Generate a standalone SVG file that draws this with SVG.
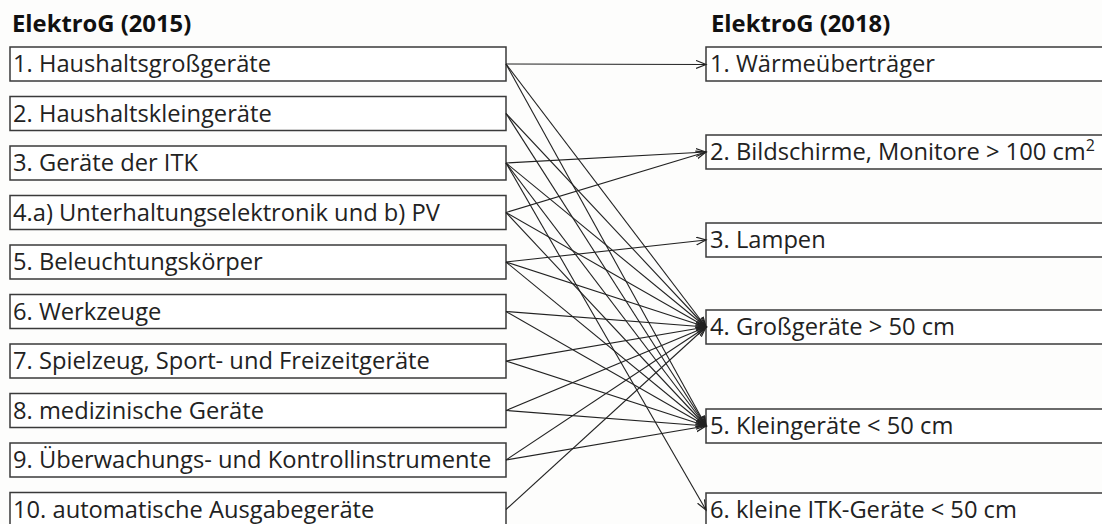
<svg xmlns="http://www.w3.org/2000/svg" width="1102" height="524" viewBox="0 0 1102 524">
<defs>
<marker id="arr" markerUnits="userSpaceOnUse" markerWidth="12" markerHeight="10" refX="10" refY="4.5" orient="auto" viewBox="0 0 12 10">
<path d="M0,0.5 L10,4.5 L0,8.5" fill="none" stroke="#222" stroke-width="1.2"/>
</marker>
<style>
.box{fill:#fff;stroke:#3a3a3a;stroke-width:1.5}
.lbl{font-family:"Open Sans","Liberation Sans",sans-serif;font-size:23.7px;fill:#222}
.hdr{font-family:"Open Sans","Liberation Sans",sans-serif;font-size:23.8px;font-weight:bold;fill:#111}
.c{stroke:#222;stroke-width:1.1;fill:none;marker-end:url(#arr)}
</style>
</defs>
<rect width="1102" height="524" fill="#fdfdfc"/>
<g id="headers">
<text class="hdr" x="12" y="32">ElektroG (2015)</text>
<text class="hdr" x="711" y="32">ElektroG (2018)</text>
</g>
<g id="left-1"><rect class="box" x="10" y="47" width="496" height="34"/><text class="lbl" x="13" y="72">1. Haushaltsgroßgeräte</text></g>
<g id="left-2"><rect class="box" x="10" y="96.5" width="496" height="34"/><text class="lbl" x="13" y="121.5">2. Haushaltskleingeräte</text></g>
<g id="left-3"><rect class="box" x="10" y="146" width="496" height="34"/><text class="lbl" x="13" y="171">3. Geräte der ITK</text></g>
<g id="left-4"><rect class="box" x="10" y="195.5" width="496" height="34"/><text class="lbl" x="13" y="220.5">4.a) Unterhaltungselektronik und b) PV</text></g>
<g id="left-5"><rect class="box" x="10" y="245" width="496" height="34"/><text class="lbl" x="13" y="270">5. Beleuchtungskörper</text></g>
<g id="left-6"><rect class="box" x="10" y="294.5" width="496" height="34"/><text class="lbl" x="13" y="319.5">6. Werkzeuge</text></g>
<g id="left-7"><rect class="box" x="10" y="344" width="496" height="34"/><text class="lbl" x="13" y="369">7. Spielzeug, Sport- und Freizeitgeräte</text></g>
<g id="left-8"><rect class="box" x="10" y="393.5" width="496" height="34"/><text class="lbl" x="13" y="418.5">8. medizinische Geräte</text></g>
<g id="left-9"><rect class="box" x="10" y="443" width="496" height="34"/><text class="lbl" x="13" y="468">9. Überwachungs- und Kontrollinstrumente</text></g>
<g id="left-10"><rect class="box" x="10" y="492.5" width="496" height="34"/><text class="lbl" x="13" y="517.5">10. automatische Ausgabegeräte</text></g>
<g id="right-1"><rect class="box" x="706" y="47" width="410" height="34"/><text class="lbl" x="710" y="72">1. Wärmeüberträger</text></g>
<g id="right-2"><rect class="box" x="706" y="135" width="410" height="34"/><text class="lbl" x="710" y="160">2. Bildschirme, Monitore &gt; 100 cm<tspan font-size="16" dy="-9">2</tspan></text></g>
<g id="right-3"><rect class="box" x="706" y="223" width="410" height="34"/><text class="lbl" x="710" y="248">3. Lampen</text></g>
<g id="right-4"><rect class="box" x="706" y="310" width="410" height="34"/><text class="lbl" x="710" y="335">4. Großgeräte &gt; 50 cm</text></g>
<g id="right-5"><rect class="box" x="706" y="409" width="410" height="34"/><text class="lbl" x="710" y="434">5. Kleingeräte &lt; 50 cm</text></g>
<g id="right-6"><rect class="box" x="706" y="493" width="410" height="34"/><text class="lbl" x="710" y="518">6. kleine ITK-Geräte &lt; 50 cm</text></g>
<g id="connectors">
<line class="c" x1="506" y1="64" x2="706" y2="64.5"/>
<line class="c" x1="506" y1="64" x2="706" y2="327"/>
<line class="c" x1="506" y1="64" x2="706" y2="426"/>
<line class="c" x1="506" y1="113.5" x2="706" y2="327"/>
<line class="c" x1="506" y1="113.5" x2="706" y2="426"/>
<line class="c" x1="506" y1="163" x2="706" y2="152"/>
<line class="c" x1="506" y1="163" x2="706" y2="327"/>
<line class="c" x1="506" y1="163" x2="706" y2="426"/>
<line class="c" x1="506" y1="163" x2="706" y2="510"/>
<line class="c" x1="506" y1="212.5" x2="706" y2="152"/>
<line class="c" x1="506" y1="212.5" x2="706" y2="327"/>
<line class="c" x1="506" y1="212.5" x2="706" y2="426"/>
<line class="c" x1="506" y1="262" x2="706" y2="240"/>
<line class="c" x1="506" y1="262" x2="706" y2="327"/>
<line class="c" x1="506" y1="262" x2="706" y2="426"/>
<line class="c" x1="506" y1="311.5" x2="706" y2="327"/>
<line class="c" x1="506" y1="311.5" x2="706" y2="426"/>
<line class="c" x1="506" y1="361" x2="706" y2="327"/>
<line class="c" x1="506" y1="361" x2="706" y2="426"/>
<line class="c" x1="506" y1="410.5" x2="706" y2="327"/>
<line class="c" x1="506" y1="410.5" x2="706" y2="426"/>
<line class="c" x1="506" y1="460" x2="706" y2="327"/>
<line class="c" x1="506" y1="460" x2="706" y2="426"/>
<line class="c" x1="506" y1="509.5" x2="706" y2="327"/>
</g>
</svg>
